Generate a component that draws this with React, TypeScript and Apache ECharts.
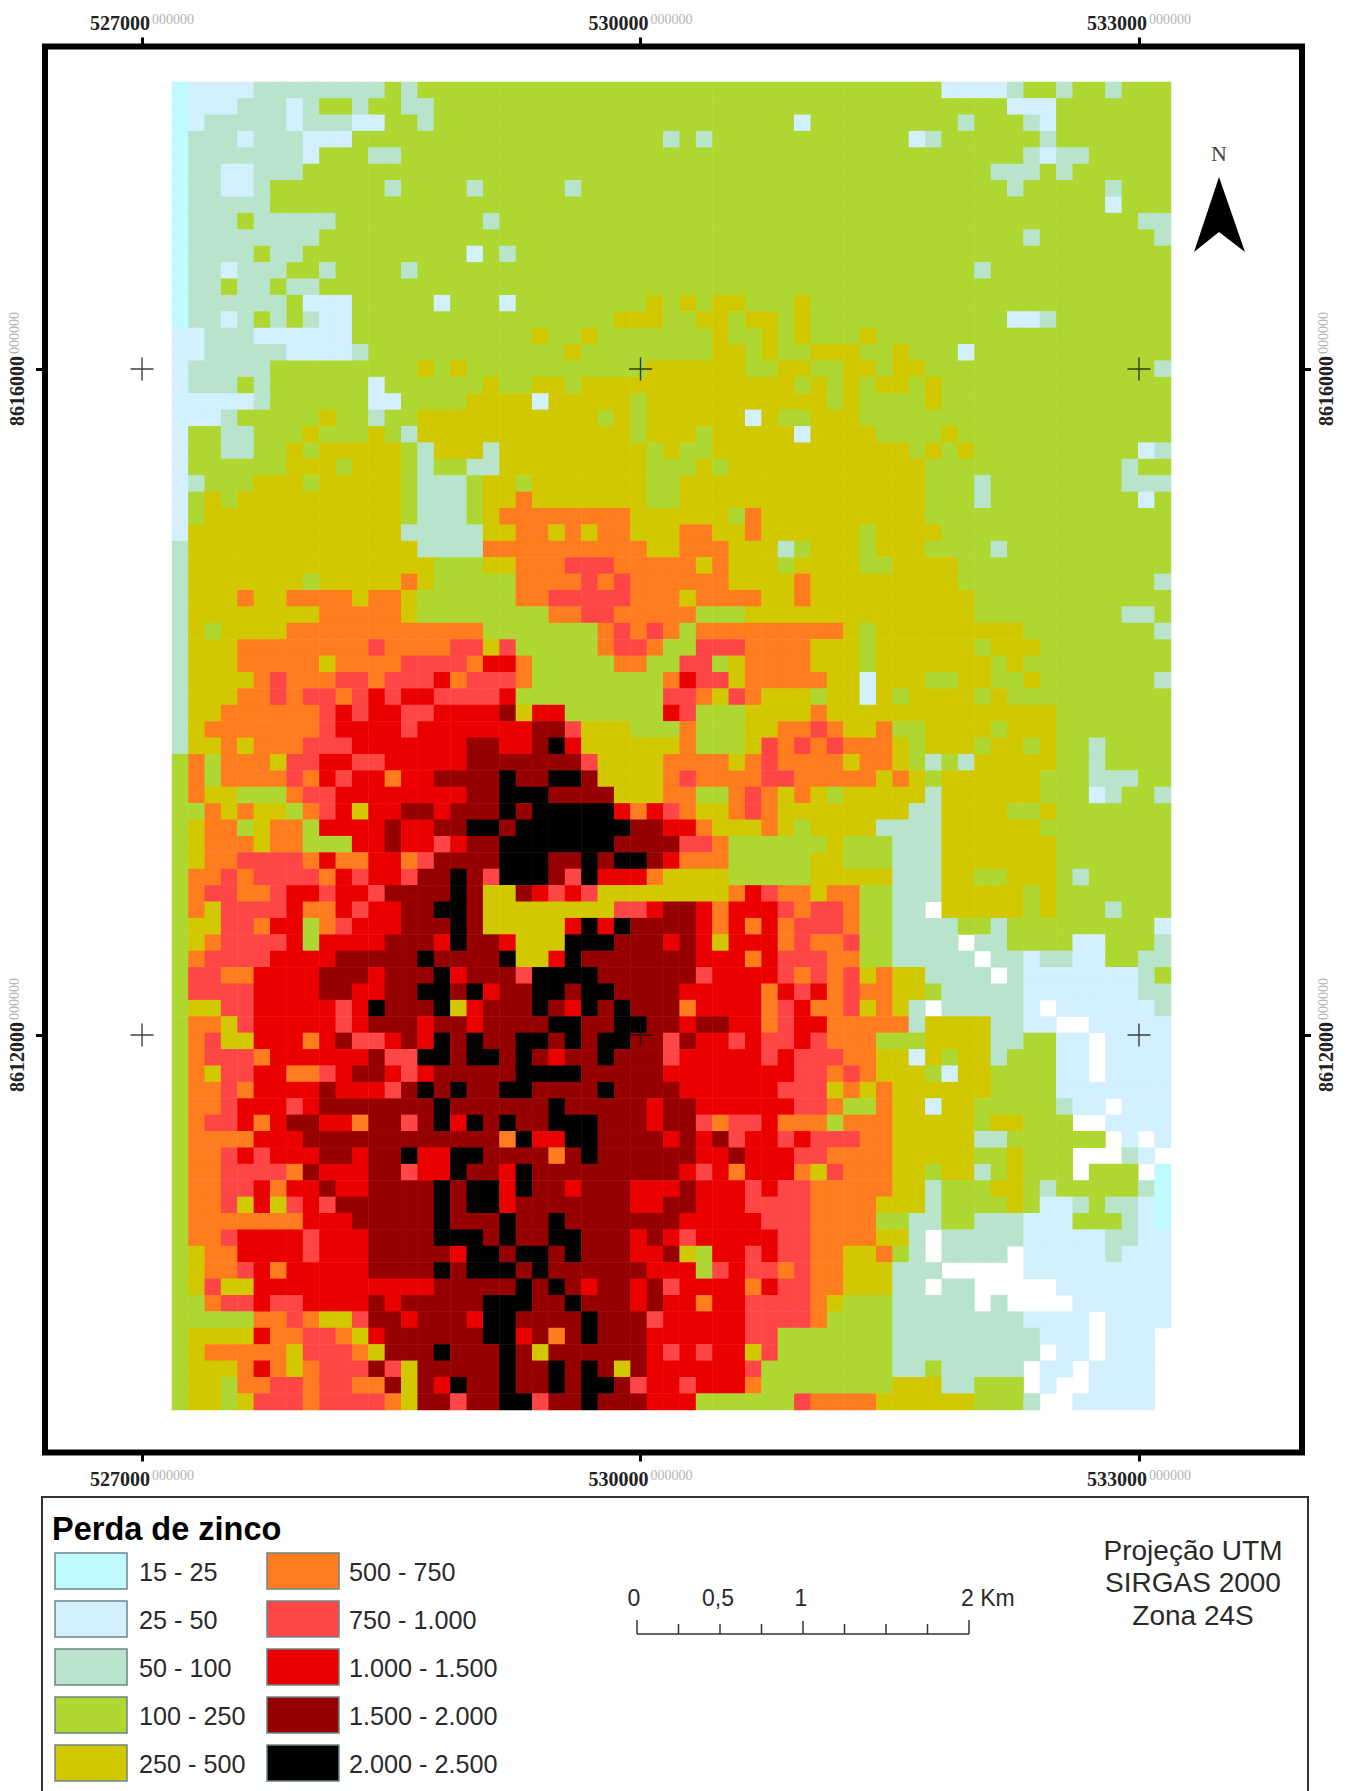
import React, { useEffect, useRef } from "react";
import * as echarts from "echarts";

// class table
const classLabels = ["15 - 25", "25 - 50", "50 - 100", "100 - 250", "250 - 500", "500 - 750", "750 - 1.000", "1.000 - 1.500", "1.500 - 2.000", "2.000 - 2.500"];
const classColors = ["#BEFAFF", "#D2F0FF", "#B8E4CC", "#AFD732", "#D2C800", "#FF7D1E", "#FF4646", "#EB0000", "#960000", "#000000"];
const xTicks = [527000, 530000, 533000];
const yTicks = [8616000, 8612000];
const scaleLabels = ["0", "0,5", "1", "2 Km"];
const projectionLines = ["Projeção UTM", "SIRGAS 2000", "Zona 24S"];
const COLS = 61;

// every row: "firstColumn:class" runs, read off the raster; n = no data (white)
const mapRows = [
"0:0 1:1 5:2 13:3 14:2 15:3 47:1 51:2 52:3 54:2 55:3 57:2 58:3",
"0:0 1:1 4:2 7:1 8:2 9:3 11:2 12:3 14:2 16:3 51:1 54:3",
"0:0 1:1 2:2 7:1 8:2 11:1 13:3 15:2 16:3 38:1 39:3 48:2 49:3 52:2 53:1 54:3",
"0:0 1:2 4:1 5:2 8:1 11:3 30:2 31:3 32:2 33:3 45:1 46:2 47:3 53:2 54:3",
"0:0 1:2 8:1 9:3 12:2 14:3 52:2 53:1 54:2 56:3",
"0:0 1:2 3:1 5:2 8:3 50:2 53:3 54:2 55:3",
"0:0 1:2 3:1 5:2 6:3 13:2 14:3 18:2 19:3 24:2 25:3 51:2 52:3 57:2 58:3",
"0:0 1:2 6:3 57:1 58:3",
"0:0 1:2 4:3 5:2 10:3 19:2 20:3 59:2",
"0:0 1:2 9:3 52:2 53:3 60:2",
"0:0 1:2 5:3 6:2 8:3 18:1 19:3 20:2 21:3",
"0:0 1:2 3:1 4:2 7:3 9:2 10:3 14:2 15:3 49:2 50:3",
"0:0 1:2 3:3 4:2 6:3 7:2 9:3",
"0:0 1:2 7:3 8:1 11:3 16:1 17:3 20:1 21:3 29:4 30:3 31:4 32:3 33:4 35:3 38:4 39:3",
"0:0 1:2 3:1 4:2 5:3 6:2 7:3 8:2 9:1 11:3 27:4 30:3 32:4 34:3 35:4 37:3 38:4 39:3 51:1 53:2 54:3",
"0:1 2:2 5:1 11:3 22:4 23:3 25:4 26:3 33:4 34:3 36:4 37:3 38:4 39:3 42:4 43:3",
"0:1 2:2 7:1 11:2 12:3 24:4 25:3 33:4 35:3 36:4 37:3 39:4 42:3 44:4 45:3 48:1 49:3",
"0:1 1:2 6:3 15:4 16:3 17:4 18:3 29:4 35:3 37:4 39:3 41:4 43:3 44:4 46:3 60:2",
"0:1 1:2 4:3 5:2 6:3 12:1 13:3 19:4 20:3 22:4 24:3 25:4 38:3 39:4 40:3 41:4 42:3 43:4 45:3 46:4 47:3",
"0:1 5:2 6:3 12:1 14:3 18:4 22:1 23:4 28:3 29:4 40:3 41:4 42:3 46:4 47:3",
"0:1 3:2 4:3 9:4 10:3 12:2 13:3 15:4 26:3 27:4 28:3 29:4 35:1 36:4 37:3 39:4 42:3",
"0:1 1:3 3:2 5:3 8:4 9:3 12:4 13:3 14:2 15:4 28:3 29:4 32:3 33:4 38:1 39:4 43:3 47:4 48:3",
"0:1 1:3 3:2 5:3 7:4 8:3 9:4 14:3 15:2 16:4 19:2 20:4 29:3 30:4 31:3 33:4 45:3 46:4 47:3 48:4 49:3 59:1 60:2",
"0:1 1:3 7:4 10:3 11:4 14:3 15:2 16:3 18:2 20:4 29:3 32:4 33:3 34:4 46:3 58:2 59:3",
"0:1 1:2 2:3 5:4 8:3 9:4 14:3 15:2 18:3 19:4 21:3 22:4 29:3 31:4 46:3 49:2 50:3 58:2",
"0:1 1:3 2:4 3:3 4:4 14:3 15:2 18:3 19:4 21:5 22:4 29:3 31:4 46:3 49:2 50:3 59:1 60:3",
"0:1 1:3 2:4 14:3 15:2 18:3 19:4 20:5 28:4 34:3 35:5 36:4 46:3",
"0:1 1:4 14:2 19:4 21:5 23:4 24:5 25:4 26:5 28:4 31:5 33:4 35:5 36:4 42:3 43:4 47:3",
"0:2 1:4 15:2 19:5 29:4 31:5 34:4 37:2 38:3 39:4 42:3 43:4 46:3 50:2 51:3",
"0:2 1:4 16:3 19:4 21:5 24:6 27:5 32:4 33:5 34:4 37:3 38:4 42:3 44:4 48:3",
"0:2 1:4 8:3 9:4 14:5 15:4 16:3 21:5 25:6 26:5 27:6 28:5 34:4 38:5 39:4 48:3 60:2",
"0:2 1:4 4:5 5:4 7:5 11:4 12:5 14:4 15:3 21:5 23:6 28:5 31:4 32:5 36:4 38:5 39:4 49:3",
"0:2 1:4 9:5 14:4 15:3 23:5 25:6 27:5 32:3 35:4 49:3 58:2 60:3",
"0:2 1:4 2:3 3:4 7:5 19:3 26:5 27:6 28:5 29:6 30:5 31:3 32:5 41:4 42:3 43:4 52:3 60:2",
"0:2 1:4 4:5 12:6 13:5 17:6 19:4 20:6 21:3 26:5 27:6 29:5 30:3 32:6 35:5 39:4 42:3 43:4 49:3 50:4 53:3",
"0:2 1:4 4:5 9:4 10:5 14:6 18:5 19:7 21:5 22:3 27:5 29:3 31:6 33:3 34:4 35:5 39:4 42:3 43:4 50:3 51:4 52:3",
"0:2 1:4 5:5 6:6 7:5 10:6 12:5 13:6 16:7 17:5 18:6 21:5 22:3 30:5 31:7 32:6 34:4 35:5 40:4 42:1 43:4 46:3 48:4 50:3 52:4 53:3 60:2",
"0:2 1:4 4:5 6:6 7:5 8:6 10:5 11:6 12:7 13:6 14:7 16:6 20:7 21:3 30:6 32:5 33:4 34:6 35:5 36:4 39:3 40:4 42:1 43:4 44:3 45:4 49:3 50:4 51:3",
"0:2 1:4 3:5 9:6 10:7 11:6 12:7 14:6 16:7 20:8 21:4 22:7 24:3 30:7 31:6 32:3 35:4 39:5 40:4 54:3",
"0:2 1:4 2:5 9:6 10:7 14:6 15:7 22:8 24:6 25:4 28:3 31:5 32:3 35:4 37:5 39:6 40:5 41:4 43:5 44:3 46:4 50:3 51:4 54:3",
"0:2 1:4 3:5 4:4 5:5 8:6 11:7 18:8 20:7 22:8 23:9 24:7 25:4 31:5 32:3 35:4 36:6 37:5 38:6 39:5 40:6 41:5 44:4 45:3 46:4 49:3 50:4 52:3 53:4 54:3 56:2 57:3",
"0:3 1:5 2:3 3:5 6:4 7:6 9:7 11:6 13:7 18:8 25:6 26:4 30:5 34:4 35:5 36:6 37:5 41:4 42:5 44:4 45:3 46:2 47:3 48:2 49:4 54:3 56:2 57:3",
"0:3 1:5 2:3 3:5 7:6 8:5 9:7 10:6 11:7 13:5 14:7 16:8 20:9 21:8 23:9 25:8 26:4 30:5 31:6 32:5 36:6 38:5 43:4 44:5 45:4 46:3 47:4 53:3 56:2 59:3",
"0:3 1:5 2:4 4:3 7:5 8:6 10:7 18:8 20:9 23:8 27:4 30:5 32:3 34:5 35:6 36:5 37:4 38:5 39:4 40:3 41:4 46:2 47:4 53:3 56:1 57:2 58:3 60:2",
"0:3 2:5 3:4 4:5 5:4 7:3 8:5 9:6 10:7 11:4 12:7 14:8 16:7 17:8 20:9 21:8 22:9 27:7 28:5 29:7 30:6 31:5 32:4 34:5 35:6 36:5 37:4 45:2 47:4 51:3 53:4 54:3",
"0:3 1:4 2:5 4:3 5:4 6:5 8:3 9:7 13:8 14:7 16:8 18:9 20:8 21:9 28:8 30:7 32:5 33:4 36:5 37:4 38:3 39:4 43:2 47:4 53:3",
"0:3 1:4 2:5 5:4 6:5 8:3 11:7 13:8 14:7 16:6 17:7 18:8 20:9 27:8 31:6 33:5 34:3 40:4 41:3 44:2 47:4 54:3",
"0:3 1:4 2:5 4:6 8:5 9:7 10:5 12:7 14:5 15:6 16:8 20:9 23:8 25:9 26:8 27:9 29:8 30:7 31:5 34:3 39:4 41:3 44:2 47:4 54:3",
"0:3 1:5 3:6 4:5 5:6 9:5 10:7 11:6 12:7 14:6 15:8 17:9 18:8 19:6 20:9 23:8 24:6 25:9 26:7 29:5 30:4 34:3 39:4 44:2 47:4 49:3 51:4 54:3 55:2 56:3",
"0:3 1:5 2:6 4:5 6:6 7:7 9:6 10:7 12:6 13:8 17:9 18:8 19:4 21:8 22:7 23:6 24:7 25:6 26:4 34:5 35:7 36:6 37:5 39:4 40:5 42:3 44:2 47:4 52:3 53:4 54:3",
"0:3 1:5 2:4 3:6 7:7 8:5 10:7 11:6 12:7 14:8 16:9 18:8 19:4 27:6 29:7 30:8 32:7 33:5 34:7 37:6 38:5 39:6 41:5 42:3 44:2 46:n 47:4 52:3 53:4 54:3 57:2 58:3",
"0:3 1:4 3:6 5:5 6:7 8:3 9:5 10:6 11:7 14:8 17:9 18:8 19:4 24:7 25:9 26:7 27:9 28:8 32:7 33:5 34:7 35:5 36:7 37:5 38:6 41:5 42:3 44:2 48:3 50:2 51:3 60:1",
"0:3 1:4 2:5 3:6 7:7 8:3 9:7 13:8 16:7 17:9 18:8 20:7 21:4 24:9 27:8 30:7 31:8 32:7 33:4 34:7 37:5 38:6 39:5 41:6 42:3 44:2 48:n 49:2 51:3 55:1 57:3 60:2",
"0:3 1:5 2:6 6:7 10:8 15:9 16:8 20:9 21:4 23:7 24:9 25:8 32:7 35:5 36:7 37:6 40:5 42:3 44:2 49:n 50:2 52:1 53:2 55:1 57:3 59:2",
"0:3 1:6 3:5 5:7 9:8 12:7 13:8 16:9 17:7 18:8 21:6 22:9 26:8 32:6 33:7 37:6 38:5 39:6 40:5 41:6 42:4 43:5 44:4 46:2 50:n 51:2 52:1 59:2 60:3",
"0:3 1:6 5:7 9:8 11:7 13:8 15:9 17:8 18:9 19:7 20:8 22:9 24:8 25:9 27:8 31:7 36:5 37:7 38:6 39:7 40:5 41:6 42:5 44:4 46:3 47:2 52:1 59:2",
"0:3 1:4 3:6 5:7 10:6 11:7 12:9 13:8 16:9 17:4 18:7 19:8 22:9 23:8 24:7 25:9 26:8 27:9 28:8 31:5 32:7 36:5 37:6 38:7 39:5 41:6 42:4 43:5 44:4 45:2 46:n 47:2 52:1 53:n 54:1 60:2",
"0:3 1:5 3:4 4:6 5:7 10:6 11:7 12:8 15:7 16:8 18:7 19:8 23:9 25:8 27:9 29:8 31:7 32:8 34:7 36:5 37:6 38:7 40:5 45:2 46:4 50:2 52:1 54:n 56:1",
"0:3 1:5 2:6 3:4 5:7 8:5 9:7 10:8 11:6 13:7 14:8 15:7 16:9 17:8 18:9 19:8 21:9 23:8 24:9 25:8 26:9 28:8 30:6 31:8 32:7 34:6 35:7 36:6 38:7 39:6 40:5 43:3 46:4 50:2 52:3 54:1 56:n 57:1",
"0:3 1:5 2:6 5:5 6:7 12:8 13:6 15:9 17:8 18:9 20:8 21:9 22:8 23:7 24:8 26:9 27:8 30:6 31:7 36:6 37:7 38:6 41:5 43:4 45:1 46:4 47:3 48:4 50:2 51:3 54:1 56:n 57:1",
"0:3 1:5 2:4 3:6 5:7 7:5 9:6 10:7 11:8 13:7 14:6 15:7 16:8 21:9 25:8 30:7 38:6 40:5 41:6 42:5 43:4 46:3 47:1 48:4 50:3 54:1 56:n 57:1",
"0:3 1:5 3:6 4:5 5:7 9:8 10:7 13:6 14:8 15:9 16:8 17:9 18:8 20:9 22:8 26:9 27:8 31:7 37:6 40:4 41:5 42:4 43:5 44:4 50:3 54:1",
"0:3 1:5 3:6 4:7 7:6 8:7 9:8 16:9 17:8 23:9 24:8 29:7 30:8 32:7 38:6 40:5 41:3 43:5 44:4 46:1 47:4 49:3 54:2 55:1 57:n 58:1",
"0:3 1:5 2:6 4:7 5:5 6:7 7:8 9:7 11:5 12:8 14:6 15:8 16:9 17:7 18:9 19:8 20:9 21:8 23:9 26:8 29:7 30:8 32:6 33:5 34:6 36:7 37:5 40:3 41:5 44:4 49:3 50:4 52:3 55:n 57:1",
"0:3 1:5 5:7 8:8 20:5 21:9 22:7 24:9 26:8 30:7 31:8 32:7 33:8 34:6 35:7 37:6 38:7 39:6 42:5 44:4 49:2 51:3 57:n 58:1 59:n 60:1",
"0:3 1:5 3:6 4:7 5:6 6:7 9:8 11:7 12:8 14:9 15:7 17:9 19:8 23:5 24:8 25:9 26:8 32:7 34:8 35:7 38:6 40:5 44:4 49:3 51:4 52:3 55:n 58:2 59:1 60:n",
"0:3 1:5 3:6 7:5 8:8 9:7 12:8 14:6 15:7 17:9 18:8 20:7 21:9 22:8 31:7 32:6 33:7 34:5 35:7 38:5 39:4 40:6 41:5 44:4 46:3 47:4 49:2 50:3 51:4 52:3 55:n 56:3 59:n 60:0",
"0:3 1:5 3:6 5:7 6:5 7:7 9:8 10:7 12:8 16:9 17:8 18:9 20:7 21:9 22:8 24:7 25:8 28:7 31:8 32:7 35:6 36:7 37:6 39:5 44:4 46:2 47:3 50:4 52:3 53:2 54:3 59:2 60:0",
"0:3 1:5 3:6 4:4 5:7 6:4 7:6 8:7 9:6 10:8 16:9 17:8 18:9 20:7 21:8 28:7 30:8 32:7 35:6 39:5 43:4 46:2 47:3 51:4 52:3 53:1 55:2 56:3 57:2 59:1 60:0",
"0:3 1:5 8:7 11:8 16:9 17:8 20:9 21:8 23:9 24:8 31:7 36:6 39:5 43:3 45:2 47:3 49:2 52:1 55:3 58:2 59:1 60:0",
"0:3 1:5 3:6 4:7 8:6 9:7 12:8 16:9 19:8 20:9 21:8 23:9 25:8 28:7 29:8 30:7 31:6 32:7 37:6 39:5 43:4 45:2 46:n 47:2 52:1 57:2 59:1",
"0:3 1:4 2:5 4:7 8:6 9:7 12:8 17:7 18:9 20:8 21:9 23:8 24:9 25:8 28:7 30:8 31:4 32:3 33:7 35:6 36:7 37:6 39:5 41:4 43:5 44:3 45:2 46:n 47:2 51:n 52:1 57:2 58:1",
"0:3 1:4 2:5 4:6 5:7 6:5 7:7 12:8 16:9 17:8 18:9 21:8 22:9 23:8 29:7 32:3 33:6 34:7 35:6 37:5 38:6 39:5 41:4 44:2 47:n 52:1",
"0:3 1:4 2:6 3:4 5:7 16:8 21:9 22:8 23:9 24:8 25:7 26:8 28:7 29:8 30:6 31:7 35:5 36:7 37:6 39:5 41:4 44:2 46:n 47:2 49:n 54:1",
"0:3 2:5 3:6 5:7 6:6 8:7 12:8 13:7 14:8 19:9 22:8 24:9 25:8 28:7 29:8 30:7 32:5 33:7 35:6 39:5 40:4 41:3 44:2 49:n 50:2 51:n 55:1",
"0:3 5:5 7:6 8:5 9:4 11:6 12:8 14:7 15:8 18:7 19:9 21:8 25:9 26:8 29:6 30:7 35:6 39:5 40:3 44:2 52:1 56:n 57:1",
"0:3 1:4 5:7 6:5 8:6 10:5 11:4 12:7 13:8 19:9 21:7 22:8 23:5 24:8 25:9 26:8 29:7 35:6 37:3 44:2 53:1 56:n 57:1 60:n",
"0:3 1:4 2:5 7:4 8:6 11:5 12:4 13:8 16:9 17:8 20:9 21:8 22:4 23:8 29:7 30:6 31:7 32:6 33:7 35:4 36:6 37:3 44:2 53:n 54:1 56:n 57:1 60:n",
"0:3 1:4 4:5 5:7 6:5 7:4 8:5 9:6 12:8 13:6 14:4 15:8 20:9 21:8 23:9 24:8 25:9 26:8 27:4 28:8 29:7 35:6 36:3 44:2 46:3 47:2 52:n 53:1 55:n 56:1 60:n",
"0:3 1:4 3:3 4:5 6:6 8:5 9:6 11:5 13:8 14:4 15:8 16:7 17:9 18:8 20:9 21:8 23:9 24:8 25:9 27:8 28:6 29:7 31:6 32:7 35:5 36:3 44:4 47:2 49:3 52:n 53:1 54:n 56:1 60:n",
"0:3 1:4 3:3 4:4 5:6 8:5 9:6 13:5 14:4 15:8 17:6 18:8 20:9 22:6 23:8 25:9 26:8 29:7 32:3 38:6 39:5 43:4 49:3 52:2 53:n 55:1 60:n",
];

const heatData: number[][] = [];
mapRows.forEach((runs, r) => {
  const row: (number | null)[] = new Array(COLS).fill(null);
  runs.split(" ").forEach((run) => {
    const [c, v] = run.split(":");
    for (let i = +c; i < COLS; i++) row[i] = v === "n" ? null : +v;
  });
  row.forEach((v, c) => { if (v !== null) heatData.push([c, r, v]); });
});

const crossData: number[][] = [];
xTicks.forEach((x) => yTicks.forEach((y) => crossData.push([x, y])));

const labelRich = {
  a: { fontFamily: "Liberation Serif", fontWeight: "bold", fontSize: 20, color: "#222" },
  b: { fontFamily: "Liberation Serif", fontSize: 14, color: "#b4b4b4", verticalAlign: "top", padding: [0, 0, 6, 2] },
};
const fmtLabel = (v: number) => `{a|${v}}{b|000000}`;

const frameAxis = (extra: any) => ({
  type: "value",
  gridIndex: 0,
  splitLine: { show: false },
  axisLine: { show: false },
  axisTick: { show: true, length: 9, lineStyle: { color: "#000", width: 3 } },
  ...extra,
});

const SW_ROWS = [1553, 1601, 1649, 1697, 1745];

function buildGraphic() {
  const g: any[] = [];
  const txt = (x: number, y: number, text: string, style: any) => ({
    type: "text", x, y, silent: true,
    style: { text, fontFamily: "Liberation Sans", fill: "#2a2a2a", textVerticalAlign: "middle", verticalAlign: "middle", ...style },
  });
  // legend box (runs off the page at the bottom)
  g.push({ type: "polyline", shape: { points: [[42, 1800], [42, 1497], [1308, 1497], [1308, 1800]] }, style: { stroke: "#333", lineWidth: 2, fill: "none" } });
  g.push(txt(52, 1529, "Perda de zinco", { fontSize: 32.5, fontWeight: "bold", fill: "#000" }));
  classLabels.forEach((lab, i) => {
    const col = i < 5 ? 0 : 1;
    const y = SW_ROWS[i % 5];
    const x = col === 0 ? 55 : 267;
    g.push({ type: "rect", shape: { x, y, width: 72, height: 36 }, style: { fill: classColors[i], stroke: "#6e8484", lineWidth: 1.5 } });
    g.push(txt(col === 0 ? 139 : 349, y + 19, lab, { fontSize: 25.2 }));
  });
  // scale bar
  const barL = 637, barStep = 41.5;
  g.push({ type: "line", shape: { x1: barL, y1: 1634, x2: barL + 8 * barStep, y2: 1634 }, style: { stroke: "#333", lineWidth: 1.5 } });
  for (let i = 0; i <= 8; i++) {
    const top = i === 0 || i === 8 ? 1620 : i === 4 ? 1621 : 1624;
    g.push({ type: "line", shape: { x1: barL + i * barStep, y1: top, x2: barL + i * barStep, y2: 1634 }, style: { stroke: "#333", lineWidth: 1.5 } });
  }
  [634, 718, 801].forEach((x, i) => g.push(txt(x, 1598, scaleLabels[i], { fontSize: 23, textAlign: "center", align: "center" })));
  g.push(txt(961, 1598, scaleLabels[3], { fontSize: 23 }));
  // projection note
  projectionLines.forEach((t, i) => g.push(txt(1193, [1550, 1582, 1615][i], t, { fontSize: 28, textAlign: "center", align: "center" })));
  // north arrow
  g.push({ type: "polygon", shape: { points: [[1219, 177], [1194, 252], [1219, 232], [1245, 252]] }, style: { fill: "#000" } });
  g.push(txt(1219, 153, "N", { fontFamily: "Liberation Serif", fontSize: 22, textAlign: "center", align: "center", fill: "#444" }));
  return g;
}

export default function App() {
  const ref = useRef<HTMLDivElement>(null);
  useEffect(() => {
    const chart = echarts.init(ref.current!, undefined, { renderer: "svg" });
    chart.setOption({
      animation: false,
      backgroundColor: "#fff",
      grid: [
        { left: 45, top: 46.5, width: 1257, height: 1406, show: true, borderColor: "#000", borderWidth: 6, backgroundColor: "transparent" },
        { left: 172, top: 82, width: 999, height: 1328, show: false },
      ],
      xAxis: [
        frameAxis({ position: "top", min: 526416, max: 533981, axisLabel: { customValues: xTicks, margin: 14, formatter: fmtLabel, rich: labelRich }, axisTick: { show: true, customValues: xTicks, length: 9, lineStyle: { color: "#000", width: 3 } } }),
        frameAxis({ position: "bottom", min: 526416, max: 533981, axisLabel: { customValues: xTicks, margin: 16, formatter: fmtLabel, rich: labelRich }, axisTick: { show: true, customValues: xTicks, length: 9, lineStyle: { color: "#000", width: 3 } } }),
        { type: "category", gridIndex: 1, show: false, data: Array.from({ length: COLS }, (_, i) => i) },
      ],
      yAxis: [
        frameAxis({ position: "left", min: 8609492, max: 8617937, axisLabel: { customValues: yTicks, rotate: 90, margin: 18, formatter: fmtLabel, rich: labelRich }, axisTick: { show: true, customValues: yTicks, length: 9, lineStyle: { color: "#000", width: 3 } } }),
        frameAxis({ position: "right", min: 8609492, max: 8617937, axisLabel: { customValues: yTicks, rotate: 90, margin: 14, formatter: fmtLabel, rich: labelRich }, axisTick: { show: true, customValues: yTicks, length: 9, lineStyle: { color: "#000", width: 3 } } }),
        { type: "category", gridIndex: 1, show: false, inverse: true, data: mapRows.map((_, i) => i) },
      ],
      visualMap: {
        show: false,
        type: "piecewise",
        dimension: 2,
        seriesIndex: 0,
        pieces: classColors.map((color, value) => ({ value, color })),
      },
      series: [
        { type: "heatmap", xAxisIndex: 2, yAxisIndex: 2, data: heatData, z: 2, itemStyle: { borderWidth: 0 }, emphasis: { disabled: true }, progressive: 0 },
        {
          type: "scatter", xAxisIndex: 0, yAxisIndex: 0, data: crossData, z: 5, silent: true,
          symbol: "path://M0 11.5H23M11.5 0V23", symbolSize: 23,
          itemStyle: { color: "transparent", borderColor: "#111", borderWidth: 1.4 },
        },
      ],
      graphic: buildGraphic(),
    });
    return () => chart.dispose();
  }, []);
  return <div ref={ref} style={{ position: "absolute", left: 0, top: 0, width: 1346, height: 1791 }} />;
}
